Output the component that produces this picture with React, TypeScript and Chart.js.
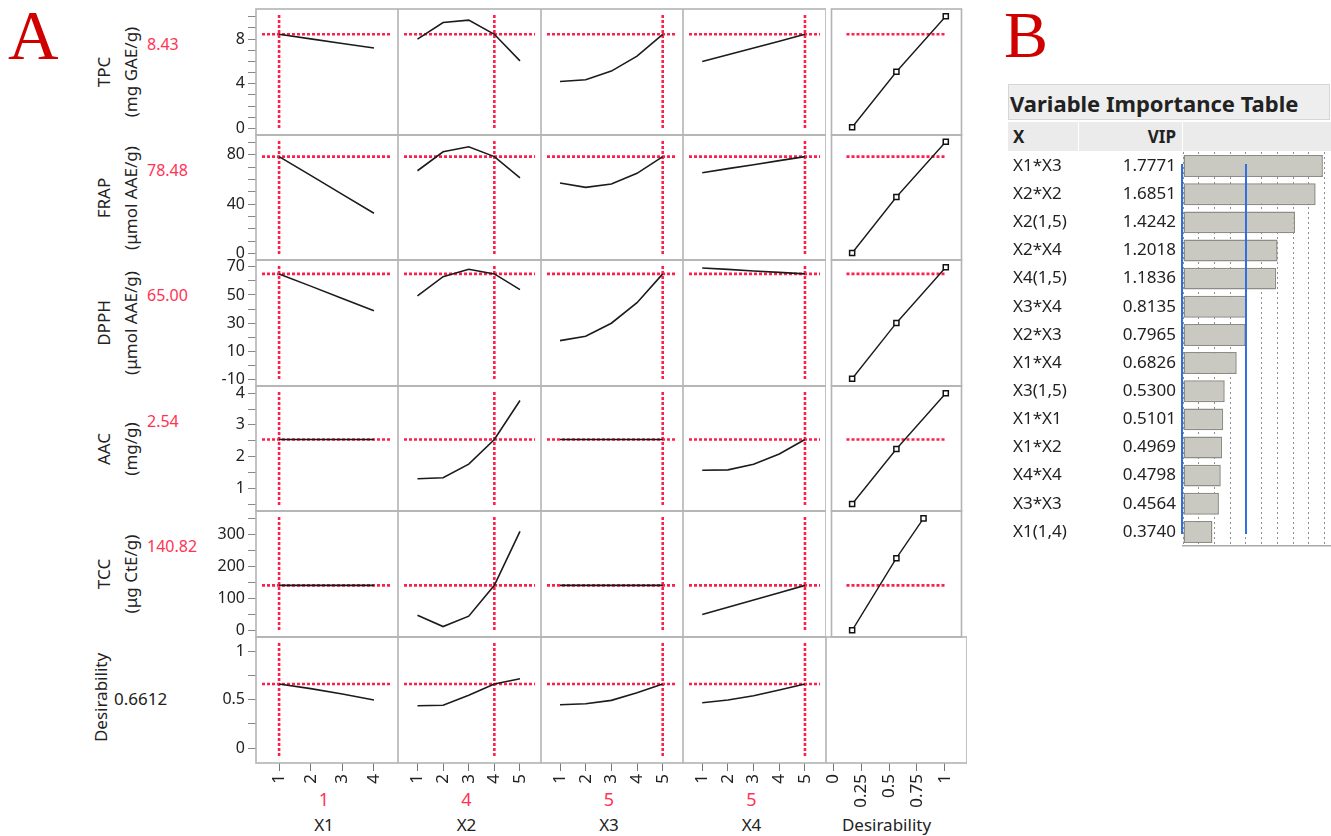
import React, { useEffect, useRef } from 'react';
import { Chart, registerables } from 'chart.js';

Chart.register(...registerables);

const FONT = '"Noto Sans", "Open Sans", "DejaVu Sans", sans-serif';
Chart.defaults.font.family = FONT;

// ---------------- Data ----------------
const factorNames = ['X1', 'X2', 'X3', 'X4'];
const factorLevels = [
  [1, 2, 3, 4],
  [1, 2, 3, 4, 5],
  [1, 2, 3, 4, 5],
  [1, 2, 3, 4, 5],
];
const factorSettings = [1, 4, 5, 5];

const responseNames = ['TPC', 'FRAP', 'DPPH', 'AAC', 'TCC', 'Desirability'];
const responseUnits = ['(mg GAE/g)', '(μmol AAE/g)', '(μmol AAE/g)', '(mg/g)', '(μg CtE/g)', ''];
const predictedValues = [8.43, 78.48, 65.0, 2.54, 140.82, 0.6612];
const predictedDecimals = [2, 2, 2, 2, 2, 4];

// profile traces: one array per factor (X1..X4)
const tpcProfiles = [
  [8.43, 8.02, 7.61, 7.2],
  [8.0, 9.49, 9.7, 8.43, 6.05],
  [4.2, 4.35, 5.13, 6.47, 8.43],
  [6.0, 6.6, 7.2, 7.8, 8.43],
];
const frapProfiles = [
  [78.48, 63.2, 47.8, 32.5],
  [67.0, 82.4, 86.5, 78.48, 61.3],
  [57.0, 53.5, 56.2, 64.9, 78.48],
  [65.4, 68.7, 71.9, 75.2, 78.48],
];
const dpphProfiles = [
  [65.0, 56.3, 47.5, 38.8],
  [49.3, 63.0, 68.3, 65.0, 53.8],
  [17.5, 20.6, 29.9, 44.5, 65.0],
  [69.2, 68.2, 67.1, 66.1, 65.0],
];
const aacProfiles = [
  [2.54, 2.54, 2.54, 2.54],
  [1.3, 1.33, 1.76, 2.54, 3.77],
  [2.54, 2.54, 2.54, 2.54, 2.54],
  [1.57, 1.58, 1.76, 2.08, 2.54],
];
const tccProfiles = [
  [140.82, 140.82, 140.82, 140.82],
  [47.3, 11.7, 44.2, 140.82, 310.0],
  [140.82, 140.82, 140.82, 140.82, 140.82],
  [49.5, 72.3, 95.2, 118.0, 140.82],
];
const desirabilityProfiles = [
  [0.661, 0.613, 0.558, 0.497],
  [0.438, 0.442, 0.545, 0.661, 0.715],
  [0.448, 0.458, 0.493, 0.571, 0.661],
  [0.469, 0.496, 0.541, 0.6, 0.661],
];
const profiles = [tpcProfiles, frapProfiles, dpphProfiles, aacProfiles, tccProfiles, desirabilityProfiles];

// desirability functions (x = desirability, y = response)
const desirabilityX = [
  [0.135, 0.566, 1.047],
  [0.135, 0.566, 1.047],
  [0.135, 0.566, 1.047],
  [0.135, 0.566, 1.047],
  [0.135, 0.566, 0.83],
];
const desirabilityY = [
  [0.1, 5.07, 10.05],
  [0.3, 45.7, 90.5],
  [-9.6, 30.1, 69.7],
  [0.5, 2.24, 4.0],
  [0, 226, 351],
];

// axes
const yAxisMin = [-0.6, -5.4, -14.8, 0.28, -21, -0.151];
const yAxisMax = [10.7, 96, 74.9, 4.23, 374, 1.144];
const yMinorStep = [1, 10, 10, 0.5, 50, 0.25];
const yMajorStep = [4, 40, 20, 1, 100, 0.5];
const yMajorBase = [0, 0, 10, 0, 0, 0];
const xAxisMin = [0.27, 0.24, 0.26, 0.25, -0.066];
const xAxisMax = [4.76, 5.82, 5.79, 5.82, 1.2];
const xAxisStep = [1, 1, 1, 1, 0.25];
const xAxisTitles = ['X1', 'X2', 'X3', 'X4', 'Desirability'];

// Variable importance
const vipTerms = ['X1*X3', 'X2*X2', 'X2(1,5)', 'X2*X4', 'X4(1,5)', 'X3*X4', 'X2*X3', 'X1*X4', 'X3(1,5)', 'X1*X1', 'X1*X2', 'X4*X4', 'X3*X3', 'X1(1,4)'];
const vipValues = [1.7771, 1.6851, 1.4242, 1.2018, 1.1836, 0.8135, 0.7965, 0.6826, 0.53, 0.5101, 0.4969, 0.4798, 0.4564, 0.374];
const vipThresholds = [0, 0.8];

// ---------------- Layout ----------------
const colEdges = [256, 398, 541, 683, 826, 967];
const rowEdges = [9, 135, 260, 386, 511, 637, 763];
const Y_AXIS_W = 70;
const X_AXIS_H = 54;
const PAD_T = 12;
const PAD_B = 12;
const RED_LINE = '#ff1f4b';
const RED_TEXT = '#ff3355';
const TEXT = '#222222';

const isMajor = (v: number, step: number, base: number) => {
  const q = (v - base) / step;
  return Math.abs(q - Math.round(q)) < 1e-6;
};

const crosshairPlugin = {
  id: 'crosshair',
  beforeDatasetsDraw(chart: any, _args: any, opts: any) {
    const { ctx, chartArea: a, scales } = chart;
    ctx.save();
    ctx.strokeStyle = RED_LINE;
    ctx.lineWidth = 2.6;
    ctx.setLineDash([3, 2]);
    if (opts.hy !== null && opts.hy !== undefined) {
      const y = scales.y.getPixelForValue(opts.hy);
      ctx.beginPath();
      ctx.moveTo(a.left + opts.hInset, y);
      ctx.lineTo(a.right - opts.hInset, y);
      ctx.stroke();
    }
    if (opts.vx !== null && opts.vx !== undefined) {
      const x = scales.x.getPixelForValue(opts.vx);
      ctx.beginPath();
      ctx.moveTo(x, a.top + 6);
      ctx.lineTo(x, a.bottom - 6);
      ctx.stroke();
    }
    ctx.restore();
  },
};

const framePlugin = {
  id: 'frame',
  afterDraw(chart: any) {
    const { ctx, chartArea: a } = chart;
    ctx.save();
    ctx.strokeStyle = '#b3b3b3';
    ctx.lineWidth = 1.6;
    ctx.strokeRect(a.left, a.top, a.right - a.left, a.bottom - a.top);
    ctx.restore();
  },
};

function panelBox(r: number, c: number) {
  const isLeft = c === 0;
  const isBottom = r === 5;
  const left = colEdges[c] - (isLeft ? Y_AXIS_W : 0);
  const top = rowEdges[r] - PAD_T;
  const width = colEdges[c + 1] - colEdges[c] + (isLeft ? Y_AXIS_W : 0);
  const height = rowEdges[r + 1] - rowEdges[r] + PAD_T + (isBottom ? X_AXIS_H : PAD_B);
  return { left, top, width, height };
}

function buildPanel(r: number, c: number) {
  const isLeft = c === 0;
  const isBottom = r === 5;
  const isDes = c === 4;
  const datasets: any[] = [];
  if (!isDes) {
    datasets.push({
      data: factorLevels[c].map((lv, i) => ({ x: lv, y: profiles[r][c][i] })),
      borderColor: '#1b1b1b',
      borderWidth: 1.6,
      pointRadius: 0,
      tension: 0,
      fill: false,
    });
  } else if (r < 5) {
    datasets.push({
      data: desirabilityX[r].map((x, i) => ({ x, y: desirabilityY[r][i] })),
      borderColor: '#1b1b1b',
      borderWidth: 1.4,
      pointStyle: 'rect',
      pointRadius: 3.6,
      pointBorderWidth: 1.5,
      pointBackgroundColor: '#ffffff',
      pointBorderColor: '#111111',
      tension: 0,
      fill: false,
    });
  }
  return {
    type: 'line',
    data: { datasets },
    options: {
      responsive: false,
      animation: false,
      events: [],
      layout: { padding: { top: PAD_T, bottom: isBottom ? 0 : PAD_B, left: 0, right: 0 } },
      plugins: {
        legend: { display: false },
        tooltip: { enabled: false },
        crosshair: {
          hy: r < 5 || c < 4 ? predictedValues[r] : null,
          vx: c < 4 ? factorSettings[c] : null,
          hInset: isDes ? 15 : 6,
        },
      },
      scales: {
        x: {
          type: 'linear',
          min: xAxisMin[c],
          max: xAxisMax[c],
          display: isBottom,
          ticks: {
            stepSize: xAxisStep[c],
            includeBounds: false,
            autoSkip: false,
            minRotation: 90,
            maxRotation: 90,
            padding: 3,
            color: TEXT,
            font: { size: 17, family: FONT },
            callback: (v: any) => String(v),
          },
          grid: { display: true, drawOnChartArea: false, drawTicks: true, tickLength: 8, color: '#777777' },
          border: { display: false },
          afterFit: (s: any) => {
            if (!isBottom) return;
            s.height = X_AXIS_H;
            s.paddingLeft = 0;
            s.paddingRight = 0;
          },
        },
        y: {
          type: 'linear',
          min: yAxisMin[r],
          max: yAxisMax[r],
          display: isLeft,
          ticks: {
            stepSize: yMinorStep[r],
            includeBounds: false,
            autoSkip: false,
            padding: 3,
            color: TEXT,
            font: { size: 16, family: FONT },
            callback: (v: any) => (isMajor(Number(v), yMajorStep[r], yMajorBase[r]) ? String(v) : ''),
          },
          grid: {
            display: true,
            drawOnChartArea: false,
            drawTicks: true,
            tickLength: 8,
            color: '#888888',
          },
          border: { display: false },
          afterFit: (s: any) => {
            if (!isLeft) return;
            s.width = Y_AXIS_W;
            s.paddingTop = 0;
            s.paddingBottom = 0;
          },
        },
      },
    },
    plugins: [crosshairPlugin, framePlugin],
  };
}

const vipTextPlugin = {
  id: 'vipText',
  afterDraw(chart: any) {
    const { ctx, scales } = chart;
    const y = scales.y;
    ctx.save();
    ctx.font = `17px ${FONT}`;
    ctx.fillStyle = TEXT;
    ctx.textBaseline = 'middle';
    vipTerms.forEach((t, i) => {
      const py = y.getPixelForValue(i);
      ctx.textAlign = 'left';
      ctx.fillText(t, 5, py);
      ctx.textAlign = 'right';
      ctx.fillText(vipValues[i].toFixed(4), 168, py);
    });
    ctx.restore();
  },
};

const vipThresholdPlugin = {
  id: 'vipThreshold',
  afterDatasetsDraw(chart: any) {
    const { ctx, scales } = chart;
    const y0 = scales.y.getPixelForValue(0);
    const y1 = scales.y.getPixelForValue(vipTerms.length - 1);
    ctx.save();
    ctx.strokeStyle = '#2f6fe0';
    ctx.lineWidth = 2;
    vipThresholds.forEach((t) => {
      const x = scales.x.getPixelForValue(t) - (t === 0 ? 1 : 0);
      ctx.beginPath();
      ctx.moveTo(x, y0 - 2);
      ctx.lineTo(x, y1 + 2);
      ctx.stroke();
    });
    ctx.restore();
  },
};

function buildVip() {
  return {
    type: 'bar',
    data: {
      labels: vipTerms,
      datasets: [
        {
          data: vipValues,
          backgroundColor: '#c9c9c1',
          borderColor: '#8d8d85',
          borderWidth: 1.5,
          borderSkipped: false,
          barPercentage: 0.78,
          categoryPercentage: 1,
        },
      ],
    },
    options: {
      indexAxis: 'y',
      responsive: false,
      animation: false,
      events: [],
      layout: { padding: { left: 175, top: 0, right: 0, bottom: 0 } },
      plugins: { legend: { display: false }, tooltip: { enabled: false } },
      scales: {
        x: {
          type: 'linear',
          min: 0,
          max: 1.88,
          ticks: { display: false, stepSize: 0.2, includeBounds: false, autoSkip: false },
          grid: { display: true, drawTicks: false, color: '#8f8f8f', lineWidth: 1 },
          border: { display: true, color: '#a8a8a8', width: 1.5, dash: [2, 3] },
          afterFit: (s: any) => {
            s.height = 2;
            s.paddingLeft = 0;
            s.paddingRight = 0;
          },
        },
        y: { type: 'category', display: false },
      },
    },
    plugins: [vipTextPlugin, vipThresholdPlugin],
  };
}

function ChartCanvas(props: { left: number; top: number; width: number; height: number; build: () => any }) {
  const ref = useRef<HTMLCanvasElement | null>(null);
  useEffect(() => {
    const chart = new Chart(ref.current as HTMLCanvasElement, props.build());
    return () => chart.destroy();
  }, []);
  return (
    <canvas
      ref={ref}
      width={props.width}
      height={props.height}
      style={{ position: 'absolute', left: props.left, top: props.top, width: props.width, height: props.height }}
    />
  );
}

function RotLabel(props: { cx: number; cy: number; lines: string[] }) {
  const lh = 27;
  const w = 130;
  const h = props.lines.length * lh;
  return (
    <div
      style={{
        position: 'absolute',
        left: props.cx - w / 2,
        top: props.cy - h / 2,
        width: w,
        height: h,
        transform: 'rotate(-90deg)',
        textAlign: 'center',
        lineHeight: `${lh}px`,
        fontSize: 17,
        fontFamily: FONT,
        color: TEXT,
        whiteSpace: 'nowrap',
      }}
    >
      {props.lines.map((l, i) => (
        <div key={i}>{l}</div>
      ))}
    </div>
  );
}

function Txt(props: { x: number; y: number; w?: number; align?: any; color?: string; size?: number; bold?: boolean; children: any }) {
  const w = props.w ?? 120;
  const align = props.align ?? 'left';
  const left = align === 'center' ? props.x - w / 2 : align === 'right' ? props.x - w : props.x;
  return (
    <div
      style={{
        position: 'absolute',
        left,
        top: props.y - 13,
        width: w,
        height: 26,
        lineHeight: '26px',
        textAlign: align,
        fontSize: props.size ?? 17,
        fontWeight: props.bold ? 700 : 400,
        fontFamily: FONT,
        color: props.color ?? TEXT,
        whiteSpace: 'nowrap',
      }}
    >
      {props.children}
    </div>
  );
}

export default function App() {
  const panels: any[] = [];
  for (let r = 0; r < 6; r++) {
    for (let c = 0; c < 5; c++) {
      const b = panelBox(r, c);
      panels.push(<ChartCanvas key={`p${r}-${c}`} {...b} build={() => buildPanel(r, c)} />);
    }
  }

  const labels: any[] = [];
  responseNames.forEach((name, r) => {
    const cy = (rowEdges[r] + rowEdges[r + 1]) / 2;
    if (responseUnits[r]) {
      labels.push(<RotLabel key={`rl${r}`} cx={116.5} cy={cy} lines={[name, responseUnits[r]]} />);
      labels.push(
        <Txt key={`rv${r}`} x={147} y={rowEdges[r] + 34.5} color={RED_TEXT} size={16}>
          {predictedValues[r].toFixed(predictedDecimals[r])}
        </Txt>
      );
    } else {
      labels.push(<RotLabel key={`rl${r}`} cx={100} cy={cy - 3} lines={[name]} />);
      labels.push(
        <Txt key={`rv${r}`} x={114} y={cy - 1} color={TEXT} size={17}>
          {predictedValues[r].toFixed(predictedDecimals[r])}
        </Txt>
      );
    }
  });

  xAxisTitles.forEach((t, c) => {
    const cx = (colEdges[c] + colEdges[c + 1]) / 2 - 3;
    if (c < 4) {
      labels.push(
        <Txt key={`xs${c}`} x={cx} y={799} w={80} align="center" color={RED_TEXT} size={18}>
          {String(factorSettings[c])}
        </Txt>
      );
    }
    labels.push(
      <Txt key={`xt${c}`} x={c < 4 ? cx : cx - 7} y={825} w={120} align="center" size={17}>
        {t}
      </Txt>
    );
  });

  return (
    <div style={{ position: 'absolute', left: 0, top: 0, width: 1331, height: 836, background: '#ffffff', overflow: 'hidden' }}>
      <div style={{ position: 'absolute', left: 8, top: 1, fontFamily: '"Liberation Serif", "DejaVu Serif", serif', fontSize: 70, lineHeight: '70px', color: '#d00000' }}>A</div>
      <div style={{ position: 'absolute', left: 1004, top: 0, fontFamily: '"Liberation Serif", "DejaVu Serif", serif', fontSize: 66, lineHeight: '70px', color: '#d00000' }}>B</div>
      {labels}
      {panels}
      {/* Variable importance table header */}
      <div style={{ position: 'absolute', left: 1008, top: 84, width: 322, height: 36, background: '#eeeeee', border: '1px solid #d6d6d6', boxSizing: 'border-box' }} />
      <Txt x={1010} y={103} w={320} bold size={22}>Variable Importance Table</Txt>
      <div style={{ position: 'absolute', left: 1008, top: 122, width: 70, height: 29, background: '#ebebeb' }} />
      <div style={{ position: 'absolute', left: 1079, top: 122, width: 103, height: 29, background: '#ebebeb' }} />
      <div style={{ position: 'absolute', left: 1183, top: 122, width: 148, height: 29, background: '#ebebeb' }} />
      <Txt x={1013} y={137} w={60} bold size={17}>X</Txt>
      <Txt x={1176} y={137} w={90} align="right" bold size={17}>VIP</Txt>
      <ChartCanvas left={1008} top={152} width={323} height={396} build={buildVip} />
    </div>
  );
}
